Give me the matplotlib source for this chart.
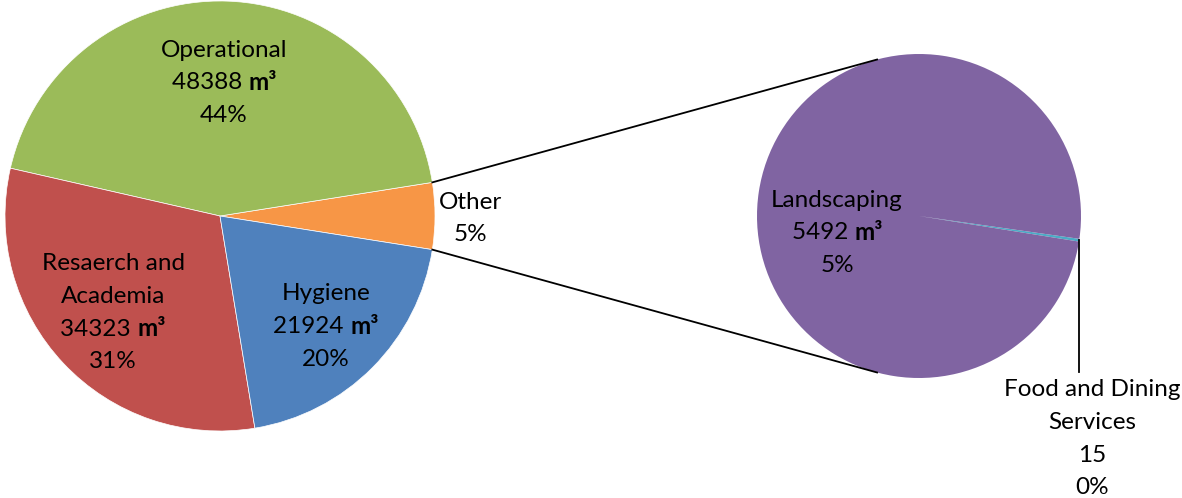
import matplotlib.pyplot as plt
import numpy as np

plt.rcParams['font.family'] = ['Lato', 'DejaVu Sans']
font_size = 17.5

# main pie (m3)
main_names = ["Operational", "Resaerch and\nAcademia", "Hygiene"]
main_values = [48388, 34323, 21924]
main_colors = ["#9BBB59", "#C0504D", "#4F81BD"]

# breakdown of "Other"
sub_names = ["Food and Dining\nServices", "Landscaping"]
sub_values = [15, 5492]
sub_colors = ["#4BACC6", "#8064A2"]
other_color = "#F79646"

other_value = sum(sub_values)
total = sum(main_values) + other_value

W, H = 1182, 498
fig = plt.figure(figsize=(W / 100, H / 100), dpi=100)
ax = fig.add_axes([0, 0, 1, 1])

c1, r1 = (220, 282), 215
c2, r2 = (919, 282), 162

other_frac = other_value / total
half = other_frac * 360 / 2
ax.pie([other_value] + main_values, colors=[other_color] + main_colors,
       startangle=-half, counterclock=True, center=c1, radius=r1,
       wedgeprops=dict(linewidth=0.5, edgecolor='white'), frame=True)

food_ang = -8.6
sub_half = sub_values[0] / other_value * 360 / 2
ax.pie(sub_values, colors=sub_colors, startangle=food_ang - sub_half,
       counterclock=True, center=c2, radius=r2,
       wedgeprops=dict(linewidth=0), frame=True)
ax.set_xlim(0, W)
ax.set_ylim(0, H)
ax.set_aspect('equal')
ax.axis('off')

# connector lines
for a1, a2 in [(half, 105), (-half, 255)]:
    p1 = (c1[0] + r1 * np.cos(np.radians(a1)), c1[1] + r1 * np.sin(np.radians(a1)))
    p2 = (c2[0] + r2 * np.cos(np.radians(a2)), c2[1] + r2 * np.sin(np.radians(a2)))
    ax.plot([p1[0], p2[0]], [p1[1], p2[1]], color='black', lw=1.3)

# leader line for food slice
fx = c2[0] + r2 * np.cos(np.radians(food_ang))
fy = c2[1] + r2 * np.sin(np.radians(food_ang))
ax.plot([fx, fx], [fy, H - 372], color='black', lw=1.3)

fig.canvas.draw()
rend = fig.canvas.get_renderer()
lh = 32.5


def value_line(x, y, num):
    t1 = ax.text(0, y, f"{num} ", fontsize=font_size, va='center', ha='left')
    t2 = ax.text(0, y, "m³", fontsize=font_size, va='center', ha='left', fontweight='bold')
    w1 = t1.get_window_extent(rend).width
    w2 = t2.get_window_extent(rend).width
    x0 = x - (w1 + w2) / 2
    t1.set_x(x0)
    t2.set_x(x0 + w1)


def label(x, ytop, name, value, pct):
    y = H - ytop
    for ln in name.split("\n"):
        ax.text(x, y, ln, fontsize=font_size, ha='center', va='center')
        y -= lh
    if value is not None:
        value_line(x, y, value)
        y -= lh
    ax.text(x, y, pct, fontsize=font_size, ha='center', va='center')


def pct(v):
    return f"{round(100 * v / total)}%"


label(224, 50, main_names[0], main_values[0], pct(main_values[0]))
label(113, 264, main_names[1], main_values[1], pct(main_values[1]))
label(326, 294, main_names[2], main_values[2], pct(main_values[2]))
label(470, 202, "Other", None, pct(other_value))
label(837, 200, sub_names[1], sub_values[1], pct(sub_values[1]))

# food label: plain value
y = H - 390
for ln in sub_names[0].split("\n") + [str(sub_values[0]), pct(sub_values[0])]:
    ax.text(1092, y, ln, fontsize=font_size, ha='center', va='center')
    y -= lh

fig.savefig("out.png", dpi=100)
